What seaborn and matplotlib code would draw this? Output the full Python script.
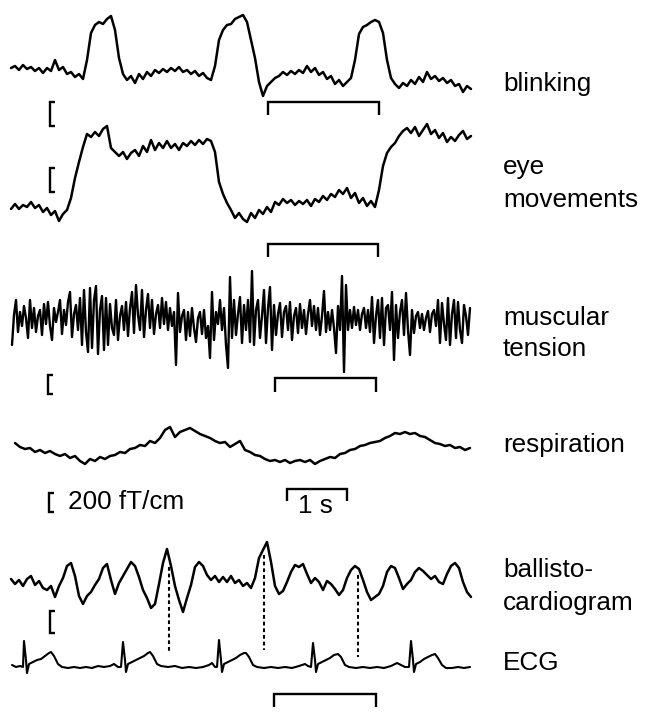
import numpy as np
import pandas as pd
import matplotlib
matplotlib.use("Agg")
import matplotlib.pyplot as plt
import seaborn as sns

FS = 60  # samples per second (length of the 1 s bar)

# ---- trace amplitudes (arbitrary units, positive = up) ----
blink = [2, 4, 0, 5, 1, 3, -1, 2, -3, 2, -1, 10, 0, 3, -4, -2, -7, -4, -9, 10,
         37, 45, 48, 46, 51, 54, 40, 12, -4, -10, -6, -13, -4, -9, -2, -6, 0, -3, 1, -2,
         2, -1, 3, -2, 0, -4, -1, -6, -3, -8, -10, 4, 30, 40, 45, 46, 51, 53, 55, 48,
         30, 12, -12, -26, -16, -12, -8, -6, -2, -5, -1, -4, 0, -3, 4, -2, 2, -5, -2, -9,
         -6, -14, -10, -16, -12, -8, 10, 36, 43, 45, 48, 50, 48, 37, 10, -8, -14, -18, -13, -16,
         -10, -14, -7, -12, -2, -9, -6, -11, -8, -13, -10, -16, -14, -22, -16, -19]

eye = [1, 6, 1, 5, 3, 8, 2, 5, -2, 2, -5, -1, -11, -4, 0, 12, 32, 48, 63, 76,
       73, 78, 74, 81, 84, 62, 58, 54, 58, 51, 57, 60, 54, 64, 58, 70, 60, 67, 62, 69,
       62, 66, 60, 67, 64, 69, 65, 70, 66, 71, 69, 58, 28, 16, 7, 0, -8, -3, -9, -12,
       -3, -8, 0, -4, 3, -2, 8, 5, 11, 7, 10, 5, 9, 6, 10, 4, 11, 8, 14, 10,
       16, 13, 20, 16, 22, 12, 17, 7, 12, 4, 9, 3, 20, 44, 57, 63, 67, 74, 79, 82,
       77, 83, 74, 80, 86, 76, 80, 72, 77, 68, 73, 69, 75, 79, 71, 74]

muscle = [-25, 5, 20, -12, 8, -6, 14, 2, -18, 20,
          -8, 12, -12, 4, 10, -15, 16, -4, 18, -6,
          -20, 12, -2, 8, 20, -14, 10, -5, 18, 28,
          -17, 6, 15, -10, 22, -25, 30, -12, -32, 32,
          -28, 20, 34, -34, 10, 24, -30, 22, -25, 16,
          -8, -15, 20, -20, 4, 14, -10, 18, -16, 12,
          28, -13, 35, 5, -10, 30, -17, 10, 26, -8,
          20, -14, 6, 15, -8, 22, -4, 18, -10, 12,
          -6, 8, -45, 27, -12, 4, 10, -20, 8, -16,
          12, -8, -22, 2, 8, -14, 10, -18, -6, -38,
          28, -20, 8, -4, 20, -10, 12, -25, -48, 43,
          -18, 20, -15, 6, 23, -23, 15, -10, 20, -22,
          49, -25, 10, 20, -18, 4, 30, -23, 12, 33,
          -30, 15, -15, 6, 17, -17, 8, 14, -10, 18,
          -20, 4, 12, -13, 16, -8, 10, -14, 6, 20,
          -6, 14, -10, 12, -15, 4, 29, -12, 8, -10,
          10, -8, -33, 14, -10, 44, -52, 35, -10, 10,
          -8, 13, -5, 10, -10, 6, 12, -8, 10, -12,
          23, -23, 4, 20, -18, 22, -25, 12, 15, -10,
          28, -40, 15, -18, 8, 20, -15, 27, -10, -35,
          10, -13, 4, 8, -8, 6, -10, 2, 9, -12,
          6, 10, -6, 20, -23, 17, -4, -20, 22, -25,
          6, 20, -18, 18, -10, -23, 15, 4, -15, 12]

resp = [7, 3, 1, 2, -2, 0, -3, -1, -4, -6, -4, -8, -6, -11, -14, -9, -11, -7, -9, -6,
        -5, -2, -3, 1, 2, 5, 4, 9, 7, 12, 20, 23, 13, 18, 20, 22, 19, 16, 14, 12,
        9, 7, 8, 3, 6, 9, 0, -2, -5, -6, -9, -11, -10, -12, -10, -13, -11, -10, -12, -10,
        -14, -11, -9, -7, -8, -4, -3, 0, 1, 4, 5, 7, 8, 9, 12, 14, 17, 16, 18, 16,
        17, 14, 13, 10, 7, 6, 4, 5, 2, 3, 0, 2]

bcg = [1, -4, 0, -6, 1, 4, -5, -1, -8, -10, -6, -17, -6, 2, 14, 17, 4, -16, -24, -16,
       -12, -5, 1, 12, 16, 0, -14, -3, 4, 11, 18, 14, 3, -10, -18, -28, -24, -4, 17, 31,
       14, -6, -20, -32, -18, -5, 13, 18, 14, 5, 0, 4, -2, 3, -2, 4, -3, 0, -6, -3,
       -8, 2, 22, 30, 38, 18, -6, -14, -11, -2, 8, 15, 13, 16, 6, -3, 2, -2, -10, -1,
       -4, -9, -15, -10, 2, 10, 14, 11, 0, -12, -20, -17, -14, -6, 8, 14, 12, 2, -9, -4,
       0, 8, 12, 9, 5, 1, 4, -2, -4, 6, 14, 17, 12, -2, -12, -17]

ecg_t = [1, 5, 9, 12, 13, 15, 16, 18, 22, 26, 30, 34, 38, 40, 43, 47, 51, 57, 63, 69,
         75, 81, 87, 93, 99, 103, 107, 110, 112, 114, 115, 117, 121, 125, 129, 133, 137, 139, 142, 146,
         150, 157, 164, 171, 178, 185, 192, 198, 201, 204, 206, 208, 210, 211, 213, 217, 221, 225, 229, 233,
         235, 238, 242, 246, 253, 260, 267, 274, 281, 288, 294, 297, 300, 302, 304, 305, 307, 311, 315, 319,
         323, 327, 330, 334, 338, 345, 352, 359, 366, 373, 380, 386, 390, 394, 398, 400, 402, 403, 405, 409,
         413, 417, 421, 424, 427, 431, 435, 441, 447, 453, 459]
ecg_v = [2, 0, 1, 0, 26, 7, -6, 3, 5, 7, 8, 11, 14, 15, 11, 3, 0, -1, 0, -1,
         0, -1, 1, 0, 1, 3, 0, 0, 25, 7, -5, 3, 5, 7, 9, 11, 14, 15, 11, 3,
         1, 0, 1, -1, 0, -1, 0, 2, 4, 0, 0, 27, 7, -5, 3, 5, 7, 9, 12, 14,
         14, 10, 2, 0, -1, 0, -1, 0, -1, 1, 3, 1, 0, 24, 7, -5, 3, 5, 7, 9,
         12, 13, 10, 2, 0, -1, 0, -1, 0, -1, 1, 4, 2, 0, 0, 26, 7, -5, 3, 5,
         8, 10, 12, 13, 9, 2, -1, -1, 0, -1, 0]

channel_labels = [["blinking"], ["eye", "movements"], ["muscular", "tension"],
                  ["respiration"], ["ballisto-", "cardiogram"], ["ECG"]]
amp_label = "200 fT/cm"
time_label = "1 s"
dash_times = [158, 253, 347]  # samples of the dotted markers

# ---------------- drawing ----------------
sns.set_style("white")
plt.rcParams["font.family"] = ["Liberation Sans", "DejaVu Sans"]
plt.rcParams["text.color"] = "black"

fig = plt.figure(figsize=(6.47, 7.17), dpi=100)
ax = fig.add_axes([0, 0, 1, 1])

X0 = 11  # pixel of sample 0


def px(x):
    return x - X0


def trace(vals, start, step, base, lw=1.5):
    t = start + step * np.arange(len(vals))
    df = pd.DataFrame({"t": t, "y": base - np.asarray(vals, dtype=float)})
    sns.lineplot(data=df, x="t", y="y", ax=ax, color="black", lw=lw,
                 estimator=None, sort=False, legend=False)


trace(blink, 0, 4, 70, lw=1.8)
trace(eye, 0, 4, 210, lw=1.8)
trace(muscle, 1, 2, 320, lw=1.7)
trace(resp, 4, 5, 450, lw=1.8)
trace(bcg, 0, 4, 580, lw=1.8)
df_ecg = pd.DataFrame({"t": ecg_t, "y": 667 - np.asarray(ecg_v, dtype=float)})
sns.lineplot(data=df_ecg, x="t", y="y", ax=ax, color="black", lw=1.5,
             estimator=None, sort=False, legend=False)

# amplitude scale brackets "["
for x, y0, y1 in [(50, 102, 126), (50, 168, 192), (48, 375, 394), (49, 493, 512), (50, 611, 633)]:
    ax.plot([px(x + 5), px(x), px(x), px(x + 5)], [y0, y0, y1, y1], color="black",
            lw=1.7, solid_joinstyle="miter", solid_capstyle="butt")

# time brackets
for x0, x1, yt, yb in [(268, 379, 102, 115), (268, 378, 244, 257), (275, 376, 378, 392),
                       (274, 376, 694, 707), (287, 347, 489, 501)]:
    ax.plot([px(x0), px(x0), px(x1), px(x1)], [yb, yt, yt, yb], color="black",
            lw=1.7, solid_joinstyle="miter", solid_capstyle="butt")

# dotted markers
for t, yt, yb in zip(dash_times, [567, 555, 575], [653, 650, 657]):
    ax.plot([t, t], [yt, yb], color="black", lw=1.5, linestyle=(0, (1.8, 1.4)))

# labels
FSZ = 18.8
label_baselines = [[91], [174, 207], [325, 356], [452], [577, 610], [670]]
for lines, ys in zip(channel_labels, label_baselines):
    for s, y in zip(lines, ys):
        ax.text(px(503), y, s, fontsize=FSZ, va="baseline", ha="left", color="black")

ax.text(px(68), 509, amp_label, fontsize=FSZ, va="baseline", ha="left", color="black")
ax.text(px(315), 513, time_label, fontsize=FSZ, va="baseline", ha="center", color="black")

ax.set_xlim(-X0, 647 - X0)
ax.set_ylim(717, 0)
ax.axis("off")

fig.savefig("out.png", dpi=100)
